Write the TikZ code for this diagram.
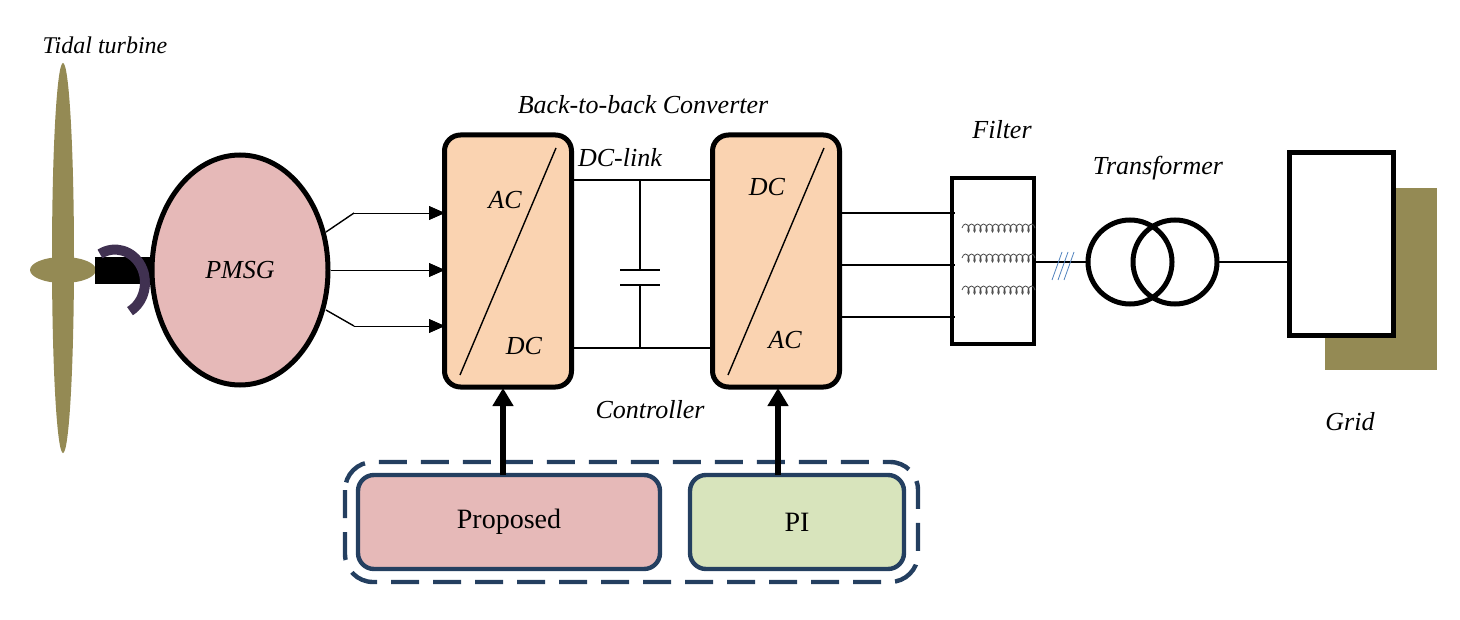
\documentclass[tikz,border=0pt]{standalone}
\usepackage{fontspec}
\setmainfont{Liberation Serif}
\usetikzlibrary{arrows.meta,decorations.pathmorphing,shapes.geometric}
\definecolor{olive}{HTML}{948A54}
\definecolor{pinkf}{HTML}{E6B9B8}
\definecolor{peach}{HTML}{FAD3B1}
\definecolor{greenf}{HTML}{D8E4BC}
\definecolor{navy}{HTML}{243F60}
\definecolor{purp}{HTML}{403151}
\definecolor{hatch}{HTML}{4F81BD}
\begin{document}
\begin{tikzpicture}[x=0.5pt,y=-0.5pt,
  lbl/.style={font=\fontsize{13}{15}\selectfont\itshape},
  conv/.style={draw,line width=2.5pt,fill=peach,rounded corners=8pt,minimum width=63.5pt,minimum height=126pt},
  ctrl/.style={draw=navy,line width=2.2pt,rounded corners=8pt,minimum height=47pt,font=\fontsize{14}{16}\selectfont},
  ar/.style={-{Triangle[length=8pt,width=7pt]},thin},
  wire/.style={line width=0.7pt}]
\useasboundingbox (0,0) rectangle (1460,620);
% turbine
\node[lbl,font=\fontsize{12}{14}\selectfont\itshape] (tt) at (105,45) {Tidal turbine};
\fill[olive] (63,258) ellipse (11 and 195);
\fill[olive] (63,270) ellipse (33 and 13);
\fill[black] (95,257) rectangle (152,284);
\draw[purp,line width=5pt] (100,254) arc (-120:60:30 and 33);
% PMSG
\node[draw,ellipse,line width=2.5pt,fill=pinkf,minimum width=88pt,minimum height=115pt,lbl] (g) at (240,270) {PMSG};
% converters
\node[conv] (c1) at (508,261) {};
\node[conv] (c2) at (776,261) {};
\draw[wire] (460,375) -- (556,148);
\draw[wire] (728,375) -- (824,148);
\node[lbl] at (505,200) {AC};
\node[lbl] at (524,346) {DC};
\node[lbl] at (767,187) {DC};
\node[lbl] at (785,340) {AC};
\node[lbl] (btb) at (643,105) {Back-to-back Converter};
\node[lbl] (dcl) at (620,158) {DC-link};
\node[lbl] (ct) at (650,410) {Controller};
% generator to converter
\draw[wire] (326,232) -- (354,213);
\draw[ar] (354,213) -- (445,213);
\draw[ar] (g.east) -- (445,270);
\draw[wire] (326,310) -- (354,326);
\draw[ar] (354,326) -- (445,326);
% dc link
\draw[wire] (572,180) -- (713,180);
\draw[wire] (572,348) -- (713,348);
\draw[wire] (640,180) -- (640,270) (620,270) -- (660,270) (620,285) -- (660,285) (640,285) -- (640,348);
% controller
\draw[navy,line width=2.2pt,dash pattern=on 14pt off 7pt,rounded corners=14pt] (345,462) rectangle (918,582);
\node[ctrl,fill=pinkf,minimum width=151pt] (p) at (509,522) {Proposed};
\node[ctrl,fill=greenf,minimum width=107pt] (pi) at (797,522) {PI};
\draw[line width=3pt,-{Triangle[length=9pt,width=10pt]}] (503,475) -- (503,388);
\draw[line width=3pt,-{Triangle[length=9pt,width=10pt]}] (778,475) -- (778,388);
% filter
\node[draw,line width=2pt,minimum width=41pt,minimum height=83pt] (f) at (993,261) {};
\node[lbl] at (1002,130) {Filter};
\foreach \y in {213,265,317} \draw[wire] (840,\y) -- (955,\y);
\foreach \y in {228,258,290}
  \draw[gray!60!black,decorate,decoration={coil,amplitude=2pt,segment length=3pt}] (962,\y) -- (1035,\y);
% transformer
\draw[wire] (1035,262) -- (1088,262);
\foreach \d in {0,6,12} \draw[hatch,thin] (1052+\d,280) -- (1062+\d,252);
\draw[line width=2.5pt] (1130,262) circle (42);
\draw[line width=2.5pt] (1175,262) circle (42);
\node[lbl] at (1158,168) {Transformer};
\draw[wire] (1217,262) -- (1288,262);
% grid
\fill[olive] (1325,188) rectangle (1437,370);
\draw[line width=2.5pt,fill=white] (1289,153) rectangle (1393,335);
\node[lbl] at (1350,422) {Grid};
\end{tikzpicture}
\end{document}
